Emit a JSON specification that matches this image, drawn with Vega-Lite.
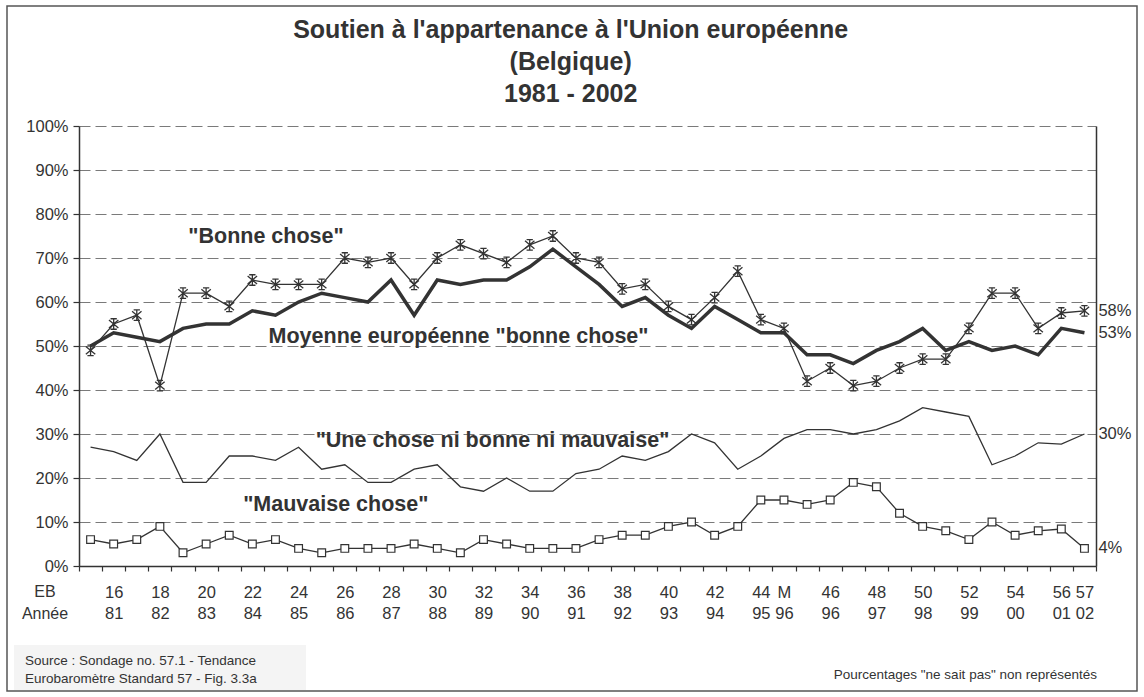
{
  "$schema": "https://vega.github.io/schema/vega-lite/v6.json",
  "width": 1017,
  "height": 440,
  "autosize": {"type": "none"},
  "padding": {"left": 79, "top": 126, "right": 48, "bottom": 131},
  "background": "white",
  "config": {"font": "Liberation Sans", "view": {"stroke": null}},
  "datasets": {
    "main": [
      {"i": 0, "bonne": 49, "moy": 50, "ni": 27, "mauv": 6},
      {"i": 1, "bonne": 55, "moy": 53, "ni": 26, "mauv": 5},
      {"i": 2, "bonne": 57, "moy": 52, "ni": 24, "mauv": 6},
      {"i": 3, "bonne": 41, "moy": 51, "ni": 30, "mauv": 9},
      {"i": 4, "bonne": 62, "moy": 54, "ni": 19, "mauv": 3},
      {"i": 5, "bonne": 62, "moy": 55, "ni": 19, "mauv": 5},
      {"i": 6, "bonne": 59, "moy": 55, "ni": 25, "mauv": 7},
      {"i": 7, "bonne": 65, "moy": 58, "ni": 25, "mauv": 5},
      {"i": 8, "bonne": 64, "moy": 57, "ni": 24, "mauv": 6},
      {"i": 9, "bonne": 64, "moy": 60, "ni": 27, "mauv": 4},
      {"i": 10, "bonne": 64, "moy": 62, "ni": 22, "mauv": 3},
      {"i": 11, "bonne": 70, "moy": 61, "ni": 23, "mauv": 4},
      {"i": 12, "bonne": 69, "moy": 60, "ni": 19, "mauv": 4},
      {"i": 13, "bonne": 70, "moy": 65, "ni": 19, "mauv": 4},
      {"i": 14, "bonne": 64, "moy": 57, "ni": 22, "mauv": 5},
      {"i": 15, "bonne": 70, "moy": 65, "ni": 23, "mauv": 4},
      {"i": 16, "bonne": 73, "moy": 64, "ni": 18, "mauv": 3},
      {"i": 17, "bonne": 71, "moy": 65, "ni": 17, "mauv": 6},
      {"i": 18, "bonne": 69, "moy": 65, "ni": 20, "mauv": 5},
      {"i": 19, "bonne": 73, "moy": 68, "ni": 17, "mauv": 4},
      {"i": 20, "bonne": 75, "moy": 72, "ni": 17, "mauv": 4},
      {"i": 21, "bonne": 70, "moy": 68, "ni": 21, "mauv": 4},
      {"i": 22, "bonne": 69, "moy": 64, "ni": 22, "mauv": 6},
      {"i": 23, "bonne": 63, "moy": 59, "ni": 25, "mauv": 7},
      {"i": 24, "bonne": 64, "moy": 61, "ni": 24, "mauv": 7},
      {"i": 25, "bonne": 59, "moy": 57, "ni": 26, "mauv": 9},
      {"i": 26, "bonne": 56, "moy": 54, "ni": 30, "mauv": 10},
      {"i": 27, "bonne": 61, "moy": 59, "ni": 28, "mauv": 7},
      {"i": 28, "bonne": 67, "moy": 56, "ni": 22, "mauv": 9},
      {"i": 29, "bonne": 56, "moy": 53, "ni": 25, "mauv": 15},
      {"i": 30, "bonne": 54, "moy": 53, "ni": 29, "mauv": 15},
      {"i": 31, "bonne": 42, "moy": 48, "ni": 31, "mauv": 14},
      {"i": 32, "bonne": 45, "moy": 48, "ni": 31, "mauv": 15},
      {"i": 33, "bonne": 41, "moy": 46, "ni": 30, "mauv": 19},
      {"i": 34, "bonne": 42, "moy": 49, "ni": 31, "mauv": 18},
      {"i": 35, "bonne": 45, "moy": 51, "ni": 33, "mauv": 12},
      {"i": 36, "bonne": 47, "moy": 54, "ni": 36, "mauv": 9},
      {"i": 37, "bonne": 47, "moy": 49, "ni": 35, "mauv": 8},
      {"i": 38, "bonne": 54, "moy": 51, "ni": 34, "mauv": 6},
      {"i": 39, "bonne": 62, "moy": 49, "ni": 23, "mauv": 10},
      {"i": 40, "bonne": 62, "moy": 50, "ni": 25, "mauv": 7},
      {"i": 41, "bonne": 54, "moy": 48, "ni": 28, "mauv": 8},
      {"i": 42, "bonne": 57.5, "moy": 54, "ni": 27.7, "mauv": 8.4},
      {"i": 43, "bonne": 58, "moy": 53, "ni": 30, "mauv": 4}
    ],
    "endlabels": [
      {"v": 58, "t": "58%"},
      {"v": 53, "t": "53%"},
      {"v": 30, "t": "30%"},
      {"v": 4, "t": "4%"}
    ]
  },
  "data": {"name": "main"},
  "resolve": {"scale": {"x": "shared", "y": "shared"}, "axis": {"x": "independent", "y": "independent"}},
  "layer": [
    {
      "data": {"values": [{}]},
      "mark": {"type": "rect", "filled": false, "stroke": "#555555", "strokeWidth": 1.5},
      "encoding": {"x": {"value": -72}, "x2": {"value": 1058}, "y": {"value": -120}, "y2": {"value": 565}}
    },
    {
      "data": {"values": [{}]},
      "mark": {"type": "text", "align": "center", "baseline": "alphabetic", "fontSize": 25, "fontWeight": "bold", "color": "#333333", "lineHeight": 31.7},
      "encoding": {"x": {"value": 491.7}, "y": {"value": -87.7}, "text": {"value": ["Soutien à l'appartenance à l'Union européenne", "(Belgique)", "1981 - 2002"]}}
    },
    {
      "data": {"values": [{}]},
      "mark": {"type": "rect", "fill": "#f4f4f4"},
      "encoding": {"x": {"value": -65}, "x2": {"value": 227}, "y": {"value": 519}, "y2": {"value": 564}}
    },
    {
      "data": {"values": [{}]},
      "mark": {"type": "text", "align": "left", "baseline": "middle", "fontSize": 13.5, "color": "#333333", "lineHeight": 18},
      "encoding": {"x": {"value": -54}, "y": {"value": 535}, "text": {"value": ["Source : Sondage no. 57.1 - Tendance", "Eurobaromètre Standard 57 - Fig. 3.3a"]}}
    },
    {
      "data": {"values": [{}]},
      "mark": {"type": "text", "align": "right", "baseline": "middle", "fontSize": 13.5, "color": "#333333"},
      "encoding": {"x": {"value": 1018}, "y": {"value": 549}, "text": {"value": "Pourcentages \"ne sait pas\" non représentés"}}
    },
    {
      "data": {"values": [{}]},
      "mark": {"type": "text", "align": "center", "baseline": "middle", "fontSize": 16, "color": "#333333", "lineHeight": 21.6},
      "encoding": {"x": {"value": -34}, "y": {"value": 466}, "text": {"value": ["EB", "Année"]}}
    },
    {
      "mark": {"type": "line", "color": "#333333", "strokeWidth": 1.3},
      "encoding": {
        "x": {
          "field": "i", "type": "quantitative",
          "scale": {"domain": [-0.5, 43.5], "nice": false, "zero": false},
          "axis": {
            "orient": "bottom",
            "values": [-0.5, 0.5, 1.5, 2.5, 3.5, 4.5, 5.5, 6.5, 7.5, 8.5, 9.5, 10.5, 11.5, 12.5, 13.5, 14.5, 15.5, 16.5, 17.5, 18.5, 19.5, 20.5, 21.5, 22.5, 23.5, 24.5, 25.5, 26.5, 27.5, 28.5, 29.5, 30.5, 31.5, 32.5, 33.5, 34.5, 35.5, 36.5, 37.5, 38.5, 39.5, 40.5, 41.5, 42.5, 43.5],
            "labels": false, "grid": false, "title": null,
            "tickSize": 5, "tickColor": "#333333", "tickWidth": 1.2,
            "domainColor": "#333333", "domainWidth": 1.5
          }
        },
        "y": {
          "field": "ni", "type": "quantitative",
          "scale": {"domain": [0, 100], "nice": false},
          "axis": {
            "orient": "left",
            "values": [0, 10, 20, 30, 40, 50, 60, 70, 80, 90, 100],
            "labelExpr": "datum.value + '%'",
            "title": null,
            "grid": true, "gridColor": "#7a7a7a", "gridDash": [11, 5], "gridWidth": 1.2,
            "tickSize": 6, "tickColor": "#333333", "tickWidth": 1.2,
            "domainColor": "#333333", "domainWidth": 1.5,
            "labelFontSize": 16.5, "labelColor": "#333333", "labelPadding": 5
          }
        }
      }
    },
    {
      "mark": {"type": "line", "color": "#333333", "strokeWidth": 1.3},
      "encoding": {
        "x": {
          "field": "i", "type": "quantitative",
          "axis": {
            "orient": "bottom",
            "values": [1, 3, 5, 7, 9, 11, 13, 15, 17, 19, 21, 23, 25, 27, 29, 30, 32, 34, 36, 38, 40, 42, 43],
            "labelExpr": "datum.value == 30 ? 'M' : (datum.value < 30 ? datum.value + 15 : datum.value + 14)",
            "ticks": false, "tickSize": 0, "domain": false, "grid": false, "title": null,
            "labelFontSize": 16.5, "labelColor": "#333333", "labelBaseline": "middle",
            "labelPadding": 26, "labelOverlap": false, "labelFlush": false, "labelBound": false
          }
        },
        "y": {
          "field": "mauv", "type": "quantitative",
          "axis": {"orient": "right", "labels": false, "ticks": false, "grid": false, "title": null, "domainColor": "#333333", "domainWidth": 1.5}
        }
      }
    },
    {
      "mark": {"type": "point", "shape": "square", "filled": true, "fill": "white", "stroke": "#333333", "strokeWidth": 1.2, "size": 60, "opacity": 1},
      "encoding": {
        "x": {"field": "i", "type": "quantitative", "axis": null},
        "y": {"field": "mauv", "type": "quantitative", "axis": null}
      }
    },
    {
      "mark": {"type": "line", "color": "#333333", "strokeWidth": 3.5},
      "encoding": {
        "x": {"field": "i", "type": "quantitative", "axis": null},
        "y": {"field": "moy", "type": "quantitative", "axis": null}
      }
    },
    {
      "mark": {"type": "line", "color": "#333333", "strokeWidth": 1.3},
      "encoding": {
        "x": {
          "field": "i", "type": "quantitative",
          "axis": {
            "orient": "bottom",
            "values": [1, 3, 5, 7, 9, 11, 13, 15, 17, 19, 21, 23, 25, 27, 29, 30, 32, 34, 36, 38, 40, 42, 43],
            "labelExpr": "['','81','','82','','83','','84','','85','','86','','87','','88','','89','','90','','91','','92','','93','','94','','95','96','','96','','97','','98','','99','','00','','01','02'][datum.value]",
            "ticks": false, "tickSize": 0, "domain": false, "grid": false, "title": null,
            "labelFontSize": 16.5, "labelColor": "#333333", "labelBaseline": "middle",
            "labelPadding": 47.6, "labelOverlap": false, "labelFlush": false, "labelBound": false
          }
        },
        "y": {"field": "bonne", "type": "quantitative", "axis": null}
      }
    },
    {
      "mark": {"type": "point", "shape": "M-0.6,-1L0.6,-1M-0.6,1L0.6,1M0,-1L0,1M-0.9,-0.75L0.9,0.75M-0.9,0.75L0.9,-0.75", "filled": false, "stroke": "#333333", "strokeWidth": 1.3, "size": 110, "opacity": 1},
      "encoding": {
        "x": {"field": "i", "type": "quantitative", "axis": null},
        "y": {"field": "bonne", "type": "quantitative", "axis": null}
      }
    },
    {
      "data": {"values": [{}]},
      "mark": {"type": "text", "fontSize": 21.5, "fontWeight": "bold", "color": "#333333", "align": "center", "baseline": "alphabetic"},
      "encoding": {"x": {"datum": 7.59, "type": "quantitative", "axis": null}, "y": {"datum": 73.4, "type": "quantitative", "axis": null}, "text": {"value": "\"Bonne chose\""}}
    },
    {
      "data": {"values": [{}]},
      "mark": {"type": "text", "fontSize": 21.5, "fontWeight": "bold", "color": "#333333", "align": "center", "baseline": "alphabetic"},
      "encoding": {"x": {"datum": 15.92, "type": "quantitative", "axis": null}, "y": {"datum": 50.7, "type": "quantitative", "axis": null}, "text": {"value": "Moyenne européenne \"bonne chose\""}}
    },
    {
      "data": {"values": [{}]},
      "mark": {"type": "text", "fontSize": 21.5, "fontWeight": "bold", "color": "#333333", "align": "center", "baseline": "alphabetic"},
      "encoding": {"x": {"datum": 17.39, "type": "quantitative", "axis": null}, "y": {"datum": 27.05, "type": "quantitative", "axis": null}, "text": {"value": "\"Une chose ni bonne ni mauvaise\""}}
    },
    {
      "data": {"values": [{}]},
      "mark": {"type": "text", "fontSize": 21.5, "fontWeight": "bold", "color": "#333333", "align": "center", "baseline": "alphabetic"},
      "encoding": {"x": {"datum": 10.61, "type": "quantitative", "axis": null}, "y": {"datum": 12.43, "type": "quantitative", "axis": null}, "text": {"value": "\"Mauvaise chose\""}}
    },
    {
      "data": {"name": "endlabels"},
      "mark": {"type": "text", "fontSize": 16.5, "color": "#333333", "align": "left", "baseline": "middle", "dx": 14},
      "encoding": {"x": {"datum": 43, "type": "quantitative", "axis": null}, "y": {"field": "v", "type": "quantitative", "axis": null}, "text": {"field": "t"}}
    }
  ]
}
